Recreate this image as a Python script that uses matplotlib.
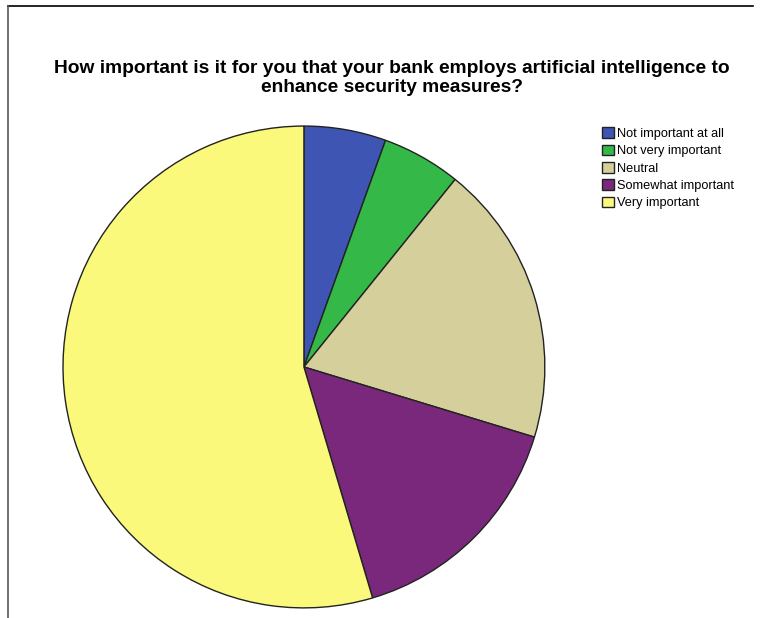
import matplotlib.pyplot as plt
from matplotlib.lines import Line2D

labels = ["Not important at all", "Not very important", "Neutral",
          "Somewhat important", "Very important"]
shares = [5.5, 5.3, 18.9, 15.7, 54.6]
colors = ["#3f55b4", "#34b848", "#d4cf9b", "#7a287c", "#fbf97b"]

title = ("How important is it for you that your bank employs artificial intelligence to\n"
         "enhance security measures?")

plt.rcParams['font.family'] = ['Liberation Sans', 'DejaVu Sans']

fig = plt.figure(figsize=(7.6, 6.18), dpi=100)
ax = fig.add_axes([0.0829, 0.0162, 0.634, 0.78])

wedges, _ = ax.pie(shares, colors=colors, startangle=90, counterclock=False,
                   wedgeprops=dict(edgecolor="#222222", linewidth=1.0))
for w in wedges:
    w.set_clip_on(False)
ax.set_xlim(-1, 1)
ax.set_ylim(-1, 1)
ax.set_aspect("equal")

fig.text(0.516, 0.874, title, ha="center", va="center", fontsize=13.8,
         fontweight="bold", linespacing=1.2)

fig.legend(wedges, labels, loc="upper left", bbox_to_anchor=(0.786, 0.802),
           frameon=False, fontsize=9.2, handlelength=0.9, handleheight=0.9,
           handletextpad=0.25, labelspacing=0.36, borderaxespad=0)

# frame lines at top and left of the chart area
fig.add_artist(Line2D([0.011, 0.991], [0.991, 0.991], color="black", lw=1.2))
fig.add_artist(Line2D([0.011, 0.011], [0.0, 0.991], color="#555555", lw=1.2))

fig.savefig("out.png", dpi=100)
